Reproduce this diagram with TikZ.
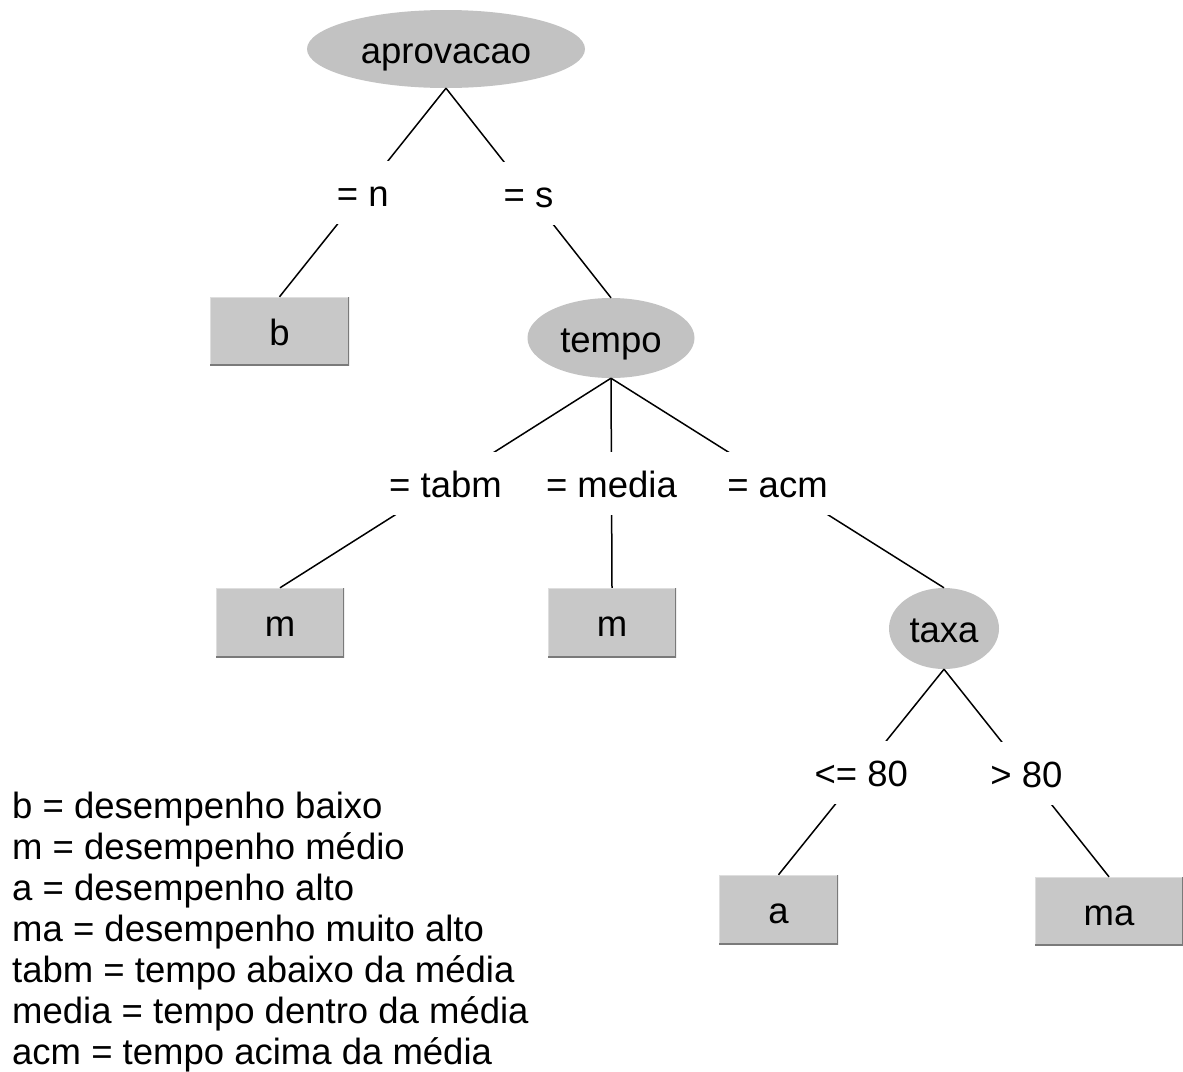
\documentclass[tikz,border=0pt]{standalone}
\usepackage{fontspec}
\setmainfont{Liberation Sans}
\usetikzlibrary{shapes.geometric}
\definecolor{nodegray}{HTML}{C2C2C2}
\definecolor{boxgray}{HTML}{C8C8C8}
\definecolor{edgedark}{HTML}{7A7A7A}
\definecolor{edgelight}{HTML}{DEDEDE}

\begin{document}
\begin{tikzpicture}[x=1pt,y=-1pt,
  every node/.style={font=\fontsize{36.5pt}{41pt}\selectfont, text=black,
    text height=33pt, text depth=5pt},
  attr/.style={ellipse, fill=nodegray, draw=none, inner sep=0pt},
  leaf/.style={rectangle, fill=boxgray, draw=none, inner sep=0pt,
    minimum height=68pt,
    path picture={
      \draw[edgelight, line width=2pt]
        (path picture bounding box.south west) --
        (path picture bounding box.north west) --
        (path picture bounding box.north east);
      \draw[edgedark, line width=3pt]
        (path picture bounding box.north east) --
        (path picture bounding box.south east) --
        (path picture bounding box.south west);}},
  branch/.style={line width=1.5pt, black},
  cond/.style={fill=white, inner xsep=6pt, inner ysep=12.5pt},
  legend/.style={anchor=base west, inner sep=0pt}]

  % page
  \fill[white] (0,0) rectangle (1183,1071);
  \useasboundingbox (0,0) rectangle (1183,1071);

  % attribute nodes
  \node[attr, minimum width=278pt, minimum height=78pt] (aprov) at (446,49) {aprovacao};
  \node[attr, minimum width=167pt, minimum height=80pt] (tempo) at (611,338) {tempo};
  \node[attr, minimum width=110pt, minimum height=81pt] (taxa) at (944,628.5) {taxa};

  % leaves
  \node[leaf, minimum width=139pt] (b) at (279.5,331) {b};
  \node[leaf, minimum width=128pt, minimum height=69pt] (m1) at (280,622.5) {m};
  \node[leaf, minimum width=128pt, minimum height=69pt] (m2) at (612,622.5) {m};
  \node[leaf, minimum width=119pt, minimum height=69pt] (a) at (778.5,909.5) {a};
  \node[leaf, minimum width=148pt] (ma) at (1109,911) {ma};

  % branches with their conditions
  \draw[branch] (aprov.south) -- node[cond] (cn) {= n} (b.north);
  \draw[branch] (aprov.south) -- node[cond] (cs) {= s} (tempo.north);
  \draw[branch] (tempo.south) -- node[cond] (ctabm) {= tabm} (m1.north);
  \draw[branch] (tempo.south) -- node[cond] (cmedia) {= media} (m2.north);
  \draw[branch] (tempo.south) -- node[cond] (cacm) {= acm} (taxa.north);
  \draw[branch] (taxa.south) -- node[cond] (cle) {<= 80} (a.north);
  \draw[branch] (taxa.south) -- node[cond] (cgt) {> 80} (ma.north);

  % legend
  \node[legend] (l1) at (12,818)  {b = desempenho baixo};
  \node[legend] (l2) at (12,859)  {m = desempenho médio};
  \node[legend] (l3) at (12,900)  {a = desempenho alto};
  \node[legend] (l4) at (12,941)  {ma = desempenho muito alto};
  \node[legend] (l5) at (12,982)  {tabm = tempo abaixo da média};
  \node[legend] (l6) at (12,1023) {media = tempo dentro da média};
  \node[legend] (l7) at (12,1064) {acm = tempo acima da média};
\end{tikzpicture}
\end{document}
